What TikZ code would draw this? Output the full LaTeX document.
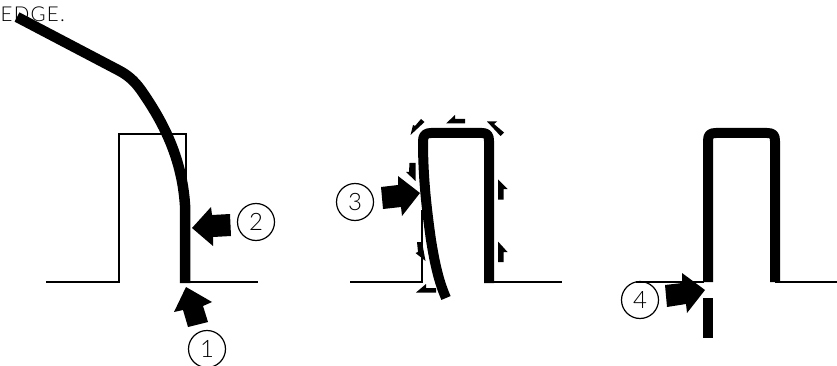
\documentclass[tikz,border=0pt]{standalone}
\usepackage{fontspec}
\setmainfont{Lato Light}
\newfontfamily\edgefont[LetterSpace=6]{Lato Light}
\tikzset{
  thinline/.style={line width=1.5pt,black},
  strip/.style={line width=10pt,black,line join=round},
  bigarrow/.style={fill=black,draw=none},
  smallarrow/.style={fill=black,draw=none},
  callout/.style={circle,draw=black,line width=1.2pt,minimum size=37pt,inner sep=0pt,font=\fontsize{24}{24}\selectfont,fill=none},
}
\begin{document}
\begin{tikzpicture}[x=1pt,y=-1pt]
\useasboundingbox (0,0) rectangle (837,366);
\clip (0,0) rectangle (837,366);
\fill[white] (0,0) rectangle (837,366);
\node[anchor=base west,inner sep=0pt,font=\edgefont\fontsize{20.5}{21}\selectfont] (edge) at (0.5,22) {EDGE.};
% first
\draw[thinline] (46,282) -- (119,282) -- (119,134) -- (186,134) -- (186,200);
\draw[thinline] (186,282) -- (258,282);
\draw[strip,line width=10.5pt] (17,17) -- (118,70) .. controls (130,76) and (137,84) .. (143,93) .. controls (165,125) and (182,160) .. (185,205) -- (185,283);
\fill[bigarrow] (186,287) -- (212,302) -- (203,306) -- (208,322) -- (188,327) -- (183,310) -- (174,312) -- cycle;
\fill[bigarrow] (192,228) -- (211,207) -- (212,215) -- (230,214) -- (231,236) -- (213,237) -- (213,246) -- cycle;
\node[callout] (n1) at (207,349) {1};
\node[callout] (n2) at (256,222) {2};
% second
\draw[thinline] (350,282) -- (422,282) -- (422,210);
\draw[thinline] (490,282) -- (562,282);
\draw[strip] (489,283) -- (489,141) .. controls (489,135) and (487,133) .. (482,133) -- (431,133) .. controls (426,133) and (423,135) .. (423,141) .. controls (423,175) and (426,205) .. (431,240) .. controls (435,265) and (439,282) .. (446,298);
\fill[bigarrow] (420,193) -- (398,176) -- (398,185) -- (381,187) -- (383,209) -- (401,207) -- (402,216) -- cycle;
\node[callout] (n3) at (355,202) {3};
\fill[smallarrow] (446,123.5) -- (455,115) -- (455,119) -- (465,119) -- (465,123.5) -- cycle;
\fill[smallarrow] (487,121.5) -- (497,121.5) -- (494,124) -- (504,132.5) -- (500.5,136) -- cycle;
\fill[smallarrow] (410.5,135) -- (413,125) -- (415,126) -- (421,119) -- (424.5,122) -- cycle;
\fill[smallarrow] (415.5,181) -- (406,172) -- (409,172) -- (409.5,163) -- (415.5,163) -- cycle;
\fill[smallarrow] (425.5,261) -- (415.5,253) -- (418,252) -- (417,242) -- (422,242) -- cycle;
\fill[smallarrow] (416,292.5) -- (426,284) -- (426,288) -- (436,288) -- (436,292.5) -- cycle;
\fill[smallarrow] (498,179.5) -- (507.5,189) -- (503.5,189) -- (503.5,199.5) -- (498,199.5) -- cycle;
\fill[smallarrow] (498,241.5) -- (507.5,252) -- (503.5,252) -- (503.5,262) -- (498,262) -- cycle;
% third
\draw[thinline] (636,282) -- (704,282);
\draw[thinline] (775,282) -- (837,282);
\draw[strip] (708,282) -- (708,141) .. controls (708,135) and (710,133) .. (716,133) -- (767,133) .. controls (773,133) and (775,135) .. (775,141) -- (775,282);
\draw[strip] (708,298) -- (708,338);
\fill[bigarrow] (705,290) -- (682,273) -- (682,283) -- (665,285) -- (667,307) -- (686,304) -- (687,313) -- cycle;
\node[callout] (n4) at (640,300) {4};
\end{tikzpicture}
\end{document}
